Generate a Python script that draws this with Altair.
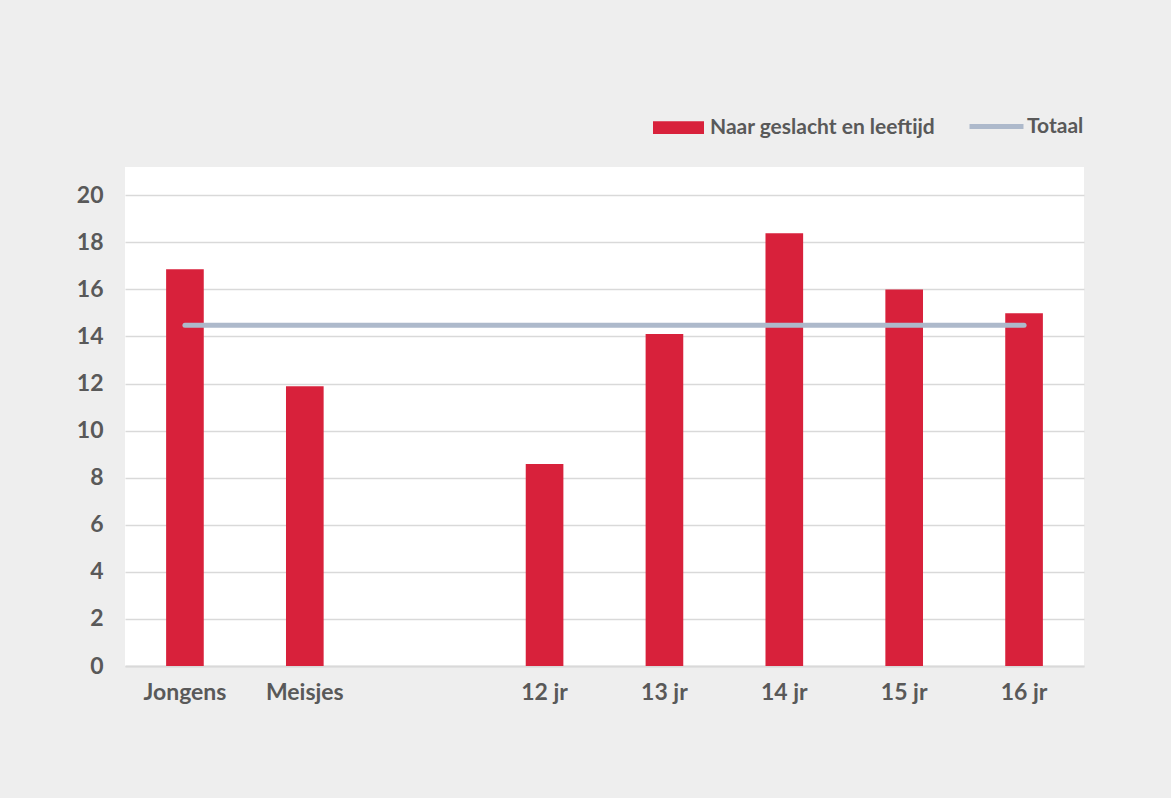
import altair as alt
import pandas as pd

categories = ["Jongens", "Meisjes", " ", "12 jr", "13 jr", "14 jr", "15 jr", "16 jr"]
bar_categories = ["Jongens", "Meisjes", "12 jr", "13 jr", "14 jr", "15 jr", "16 jr"]
bar_values = [16.86, 11.89, 8.58, 14.1, 18.39, 16.0, 14.99]
totaal_value = 14.48
series_names = ["Naar geslacht en leeftijd", "Totaal"]
y_ticks = [0, 2, 4, 6, 8, 10, 12, 14, 16, 18, 20]

RED = "#d8213b"
BLUE = "#adb9cb"
TXT = "#595959"
FONT = "Lato"

bars_df = pd.DataFrame({"cat": bar_categories, "val": bar_values, "serie": series_names[0]})
line_df = pd.DataFrame({"cat": bar_categories,
                        "val": [totaal_value] * len(bar_categories),
                        "serie": series_names[1]})

x = alt.X("cat:N", sort=categories,
          scale=alt.Scale(domain=categories, paddingInner=0.686, paddingOuter=0.343),
          axis=alt.Axis(title=None, labelAngle=0, ticks=False, domainColor="#d9d9d9",
                        domainWidth=2, labelPadding=15, grid=False))
y = alt.Y("val:Q", scale=alt.Scale(domain=[0, 21.2], nice=False),
          axis=alt.Axis(values=y_ticks, title=None, domain=False, ticks=False,
                        gridColor="#d9d9d9", gridWidth=1.5, labelPadding=22))

bars = alt.Chart(bars_df).mark_bar().encode(
    x=x, y=y,
    fill=alt.Fill("serie:N", scale=alt.Scale(domain=[series_names[0]], range=[RED]),
                  legend=alt.Legend(orient="none", legendX=528, legendY=-65, title=None,
                                    symbolType="M-1,-0.25H1V0.25H-1Z", symbolSize=2601,
                                    symbolStrokeWidth=0, labelOffset=6, labelLimit=0)),
)

line = alt.Chart(line_df).mark_line(strokeWidth=5, strokeCap="round").encode(
    x=x, y=y,
    stroke=alt.Stroke("serie:N", scale=alt.Scale(domain=[series_names[1]], range=[BLUE]),
                      legend=alt.Legend(orient="none", legendX=842, legendY=-70, title=None,
                                        symbolType="stroke", symbolSize=2916,
                                        symbolStrokeWidth=5, labelOffset=1, labelLimit=0)),
)

chart = alt.layer(bars, line).resolve_scale(fill="independent", stroke="independent").properties(
    width=959, height=499,
    autosize=alt.AutoSizeParams(type="none"),
    padding={"left": 125, "top": 167, "right": 87, "bottom": 132},
    background="#eeeeee",
).configure_view(fill="white", stroke=None).configure_axis(
    labelFont=FONT, labelFontSize=23, labelFontWeight="bold", labelColor=TXT,
).configure_legend(
    labelFont=FONT, labelFontSize=21, labelFontWeight="bold", labelColor=TXT,
)

chart.save("out.html", embed_options={"renderer": "svg", "actions": False})
